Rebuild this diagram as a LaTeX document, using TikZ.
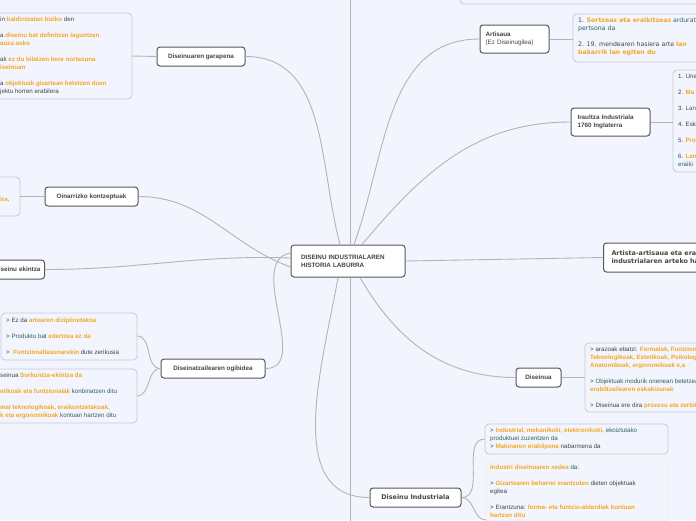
\documentclass[tikz,border=0pt]{standalone}
\usepackage{fontspec}
\setmainfont{Liberation Sans}
\newfontfamily\dvs{DejaVu Sans}
\definecolor{bgc}{HTML}{F2F5FE}
\definecolor{org}{HTML}{F5A623}
\definecolor{tl}{HTML}{2E6259}
\definecolor{gr}{HTML}{444444}
\definecolor{lnc}{HTML}{B4B4B4}
\definecolor{bdc}{HTML}{C9CDD6}
\newcommand{\og}[1]{\textcolor{org}{\textbf{#1}}}
\newcommand{\tg}[1]{\textcolor{tl}{#1}}
\tikzset{
  topic/.style={draw=gr!90, line width=1pt, rounded corners=3pt, fill=white, font=\fontsize{6.3}{7.8}\selectfont\bfseries, text=gr, align=left, inner sep=0pt},
  cbox/.style={draw=bdc, line width=0.9pt, rounded corners=4pt, fill=bgc},
  ctext/.style={anchor=north west, align=left, font=\fontsize{6.2}{8}\selectfont, text=gr, inner sep=0pt},
  link/.style={draw=lnc, line width=0.9pt},
}
\begin{document}
\begin{tikzpicture}[x=1pt,y=-1pt]
\useasboundingbox (0,0) rectangle (696,520);
\fill[bgc] (0,0) rectangle (696,520);
\clip (0,0) rectangle (696,520);
% topics
\node[topic, minimum width=114pt, minimum height=32pt, text width=94pt] (c) at (348,261) {DISEINU INDUSTRIALAREN\\HISTORIA LABURRA};
\node[topic, minimum width=88pt, minimum height=19pt, align=center] (gar) at (201,56.5) {Diseinuaren garapena};
\node[topic, minimum width=93pt, minimum height=19pt, align=center] (oin) at (91.5,196.5) {Oinarrizko kontzeptuak};
\node[topic, minimum width=90pt, minimum height=19pt, anchor=east, align=right, text width=82pt] (ek) at (45,269.5) {Diseinu ekintza};
\node[topic, minimum width=104pt, minimum height=19pt, align=center] (ogi) at (213,368.5) {Diseinatzailearen ogibidea};
\node[topic, minimum width=69pt, minimum height=28pt, text width=58pt] (art) at (514.5,39) {Artisaua\\\mdseries(Ez Diseinugilea)};
\node[topic, minimum width=79pt, minimum height=28pt, text width=66pt] (ira) at (610.5,122) {Iraultza Industriala\\1760 Inglaterra};
\node[topic, minimum width=150pt, minimum height=29pt, anchor=west, text width=134pt, font=\dvs\fontsize{6.4}{8}\selectfont\bfseries] (ae) at (603,257.5) {Artista-artisaua eta eragile\\industrialaren arteko harremana};
\node[topic, minimum width=45pt, minimum height=19pt, align=center] (dis) at (538.5,377.5) {Diseinua};
\node[topic, minimum width=91pt, minimum height=19pt, align=center, font=\dvs\fontsize{6.4}{8}\selectfont\bfseries] (din) at (415.5,497.5) {Diseinu Industriala};
\coordinate (up) at (350,-5);
\coordinate (down) at (350,530);
% connectors
\draw[link] ([xshift=-8pt]c.north) to[out=105,in=0] (gar.east);
\draw[link] ([xshift=2pt]c.north) -- (up);
\draw[link] ([xshift=6pt]c.north) to[out=70,in=180] (art.west);
\draw[link] ([xshift=14pt]c.north) to[out=50,in=180] (ira.west);
\draw[link] ([yshift=-6pt]c.west) to[out=160,in=0] (oin.east);
\draw[link] ([yshift=3pt]c.west) to[out=178,in=0] (ek.east);
\draw[link] ([yshift=8pt]c.west) to[out=190,in=0] (ogi.east);
\draw[link] (c.east) -- (ae.west);
\draw[link] ([xshift=-10pt]c.south) to[out=-100,in=180] (din.west);
\draw[link] ([xshift=2pt]c.south) -- (down);
\draw[link] ([xshift=12pt]c.south) to[out=-60,in=180] (dis.west);
% top box remnant
\draw[cbox] (460,-30) rectangle (710,4);
% content: garapena
\draw[cbox] (-10,13) rectangle (132,99);
\draw[link] (132,56) -- (gar.west);
\node[ctext] (t1) at (0,17) {in \og{baldintzatan biziko} den\\[8pt]a \og{diseinu bat definitzen laguntzen}\\\og{auza asko}\\[8pt]ak \og{ez du bilatzen bere nortasuna}\\\og{iseinuan}\\[8pt]a \og{objektuak gizartean betetzen duen}\\jektu horren erabilera};
% oinarrizko
\draw[cbox] (-10,177) rectangle (20,216);
\draw[link] (20,196.5) -- (oin.west);
\node[ctext] (t2) at (0,197) {\og{ira,}};
% ogibidea
\draw[cbox] (1,313) rectangle (137,360);
\draw[cbox] (-10,369) rectangle (137,423);
\draw[link] (137,336) to[out=0,in=180] (ogi.west);
\draw[link] (137,396) to[out=0,in=180] (ogi.west);
\node[ctext] (t3) at (6,318) {> Ez da \og{artearen diziplinetakoa}\\[8pt]> \tg{Produktu bat} \og{edertzea ez da}\\[8pt]>\ \ \og{Funtzionaltasunarekin} dute zerikusia};
\node[ctext] (t4) at (0,373) {seinua \og{Sorkuntza-ekintza da}\\[8pt]\og{etikoak eta funtzionalak} \tg{konbinatzen ditu}\\[8pt]\og{mal teknologikoak, eraikuntzetakoak,}\\\og{k eta ergonomikoak} \tg{kontuan hartzen ditu}};
% artisaua
\draw[cbox] (573,14) rectangle (710,62);
\draw[link] (art.east) -- (573,39);
\node[ctext, font=\dvs\fontsize{6.2}{8}\selectfont] (t5) at (578,18) {1. \og{Sortzeaz eta eraikitzeaz} \tg{arduratzen den}\\\tg{pertsona da}\\[8pt]2. 19. mendearen hasiera arte \og{lan}\\\og{bakarrik lan egiten du}};
% iraultza
\draw[cbox] (673,70) rectangle (710,172);
\draw[link] (ira.east) -- (673,122);
\node[ctext] (t6) at (678,74) {1. Una\\[8pt]2. \og{Ma}\\[8pt]3. \tg{Lan}\\[8pt]4. Esk\\[8pt]5. \og{Pro}\\[8pt]6. \og{Lan}\\\tg{eraiki}};
% diseinua
\draw[cbox] (585,343) rectangle (710,412);
\draw[link] (dis.east) -- (585,377.5);
\node[ctext] (t7) at (590,347) {> arazoak ebatzi: \og{Formalak, Funtzionalak,}\\\og{Teknologikoak, Estetikoak, Psikologikoak,}\\\og{Anatomikoak, ergonomikoak e,a}\\[8pt]> \tg{Objektuak modurik onenean betetzea}\\\og{erabiltzailearen eskakizunak}\\[8pt]> Diseinua ere dira \og{prozesu eta zerbitzuak}};
% diseinu industriala
\draw[cbox] (485,424) rectangle (668,454);
\draw[cbox, draw=orange!15] (486,462) rectangle (668,540);
\draw[link] (din.east) to[out=0,in=180] (485,439);
\draw[link] (din.east) to[out=0,in=180] (486,520);
\node[ctext] (t8) at (490,428) {> \og{Industrial, mekanikoki, elektronikoki,} \tg{ekoiztutako}\\\tg{produktuei zuzentzen da}\\> \og{Makinaren erabilpena} nabarmena da};
\node[ctext] (t9) at (490,465) {\og{Industri diseinuaren xedea} \tg{da:}\\[8pt]> \og{Gizartearen beharrei erantzuten} dieten objektuak\\egitea\\[8pt]> Erantzuna: \og{forma- eta funtzio-alderdiak kontuan}\\\og{hartzen ditu}};
\end{tikzpicture}
\end{document}
